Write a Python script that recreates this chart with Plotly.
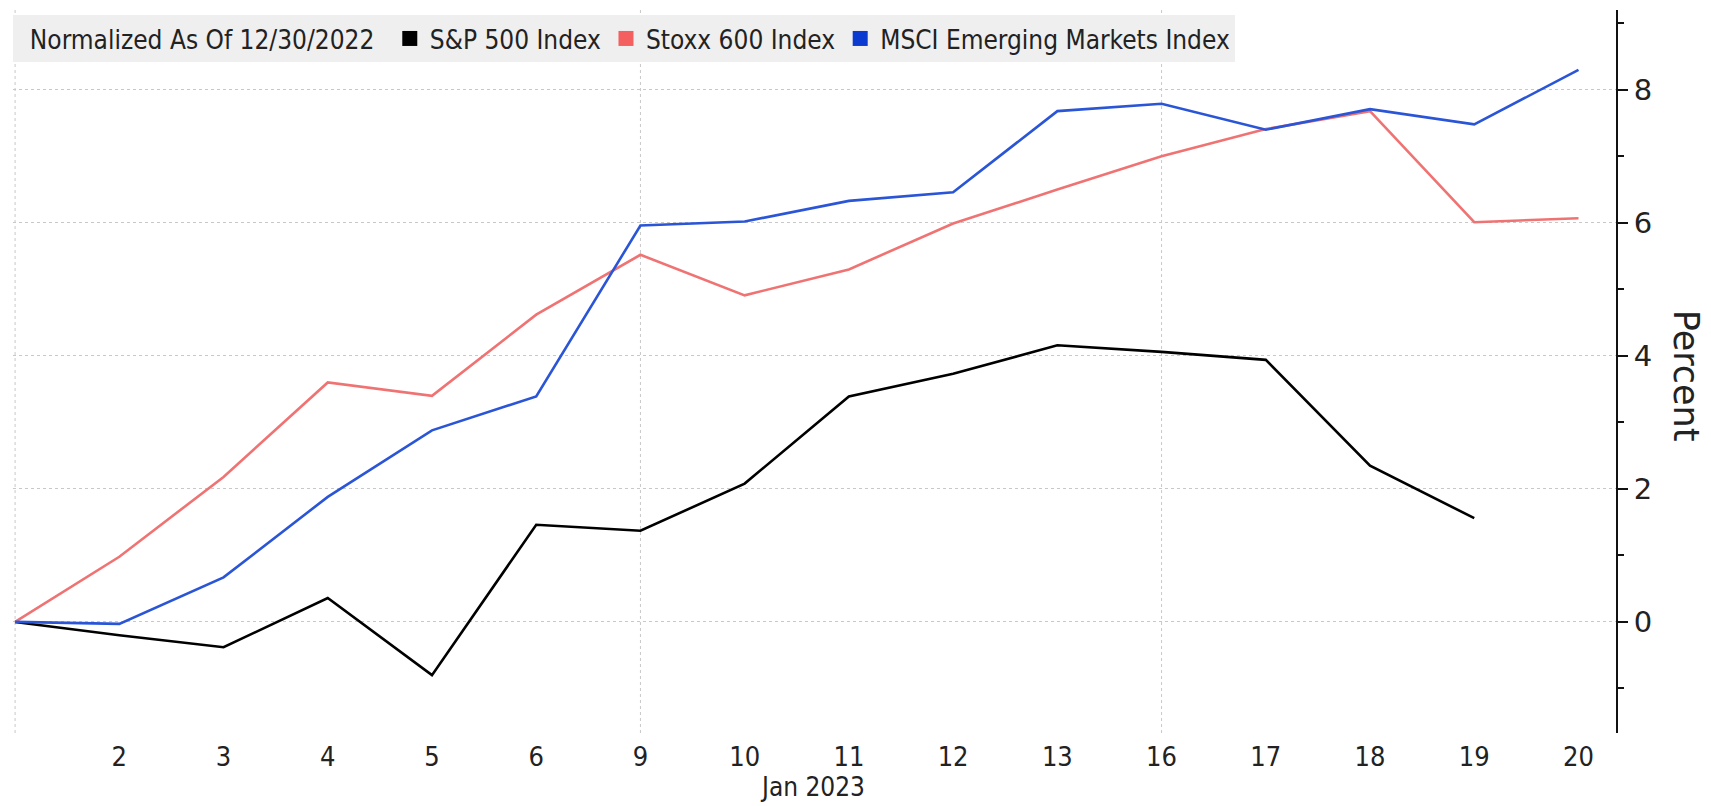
import plotly.graph_objects as go

# ---- data ----
dates = ["2022-12-30", "2023-01-02", "2023-01-03", "2023-01-04", "2023-01-05", "2023-01-06",
         "2023-01-09", "2023-01-10", "2023-01-11", "2023-01-12", "2023-01-13",
         "2023-01-16", "2023-01-17", "2023-01-18", "2023-01-19", "2023-01-20"]
day_labels = ["", "2", "3", "4", "5", "6", "9", "10", "11", "12", "13", "16", "17", "18", "19", "20"]

spx = [0.0, -0.2, -0.38, 0.36, -0.80, 1.46, 1.37, 2.08, 3.39, 3.73, 4.16, 4.06, 3.94, 2.35, 1.56, None]
stoxx = [0.0, 0.98, 2.18, 3.60, 3.40, 4.62, 5.52, 4.91, 5.30, 5.99, 6.50, 7.00, 7.41, 7.68, 6.01, 6.07]
msci_em = [0.0, -0.03, 0.67, 1.88, 2.88, 3.39, 5.96, 6.02, 6.33, 6.46, 7.68, 7.79, 7.40, 7.71, 7.48, 8.30]

series_names = ["S&P 500 Index", "Stoxx 600 Index", "MSCI Emerging Markets Index"]
line_colors = ["#000000", "#f07373", "#2a55d6"]
legend_colors = ["#000000", "#f45f5f", "#0a3ad0"]
week_starts = [0, 6, 11]  # indices of vertical dotted gridlines

y_ticks = [0, 2, 4, 6, 8]

condensed = "Liberation Sans Narrow, DejaVu Sans Condensed, Arial Narrow, sans-serif"

fig = go.Figure()
xs = list(range(len(dates)))
for name, vals, col in zip(series_names, [spx, stoxx, msci_em], line_colors):
    fig.add_trace(go.Scatter(x=xs, y=vals, mode="lines", name=name,
                             line=dict(color=col, width=2.6), showlegend=False,
                             connectgaps=False, hoverinfo="skip"))
for name, col in zip(series_names, legend_colors):
    fig.add_trace(go.Scatter(x=[None], y=[None], mode="markers", name=name,
                             marker=dict(symbol="square", size=15, color=col)))

for wi in week_starts:
    fig.add_shape(type="line", xref="x", yref="paper", x0=wi, x1=wi, y0=0, y1=1,
                  line=dict(color="#c8c8c8", width=1, dash="dot"), layer="below")

fig.update_layout(
    width=1703, height=798,
    margin=dict(l=5, r=95, t=2, b=73),
    paper_bgcolor="white", plot_bgcolor="white",
    showlegend=True,
    legend=dict(
        orientation="h", x=0, xanchor="left", y=0.993, yanchor="top",
        bgcolor="#efefef", borderwidth=0,
        font=dict(family=condensed, size=26, color="#222"),
        title=dict(text="  Normalized As Of 12/30/2022 ", side="left",
                   font=dict(family=condensed, size=26, color="#222")),
        itemwidth=30, tracegroupgap=0,
    ),
    xaxis=dict(
        range=[-0.02, 15.36], showgrid=False, zeroline=False, showline=False,
        tickmode="array", tickvals=xs[1:], ticktext=day_labels[1:],
        ticks="outside", ticklen=0, tickcolor="rgba(0,0,0,0)",
        tickfont=dict(family=condensed, size=27, color="#222"),
    ),
    yaxis=dict(
        side="right", range=[-1.67, 9.2], tickmode="array", tickvals=y_ticks,
        showgrid=True, gridcolor="#c8c8c8", griddash="dot", gridwidth=1,
        zeroline=False, showline=True, linecolor="#111", linewidth=2,
        ticks="outside", ticklen=10, tickwidth=2, tickcolor="#111",
        tickfont=dict(family="DejaVu Sans", size=29, color="#222"),
        minor=dict(tickvals=[-1, 1, 3, 5, 7, 9], ticks="outside", ticklen=6,
                   tickwidth=1.5, tickcolor="#111", showgrid=False),
    ),
    annotations=[
        dict(text="Jan 2023", xref="x", yref="paper", x=7.65, y=-0.075,
             xanchor="center", yanchor="middle", showarrow=False,
             font=dict(family=condensed, size=26, color="#222")),
        dict(text="Percent", xref="paper", yref="paper", x=1.0437, y=0.494,
             xanchor="center", yanchor="middle", showarrow=False, textangle=90,
             font=dict(family="DejaVu Sans", size=35, color="#222")),
    ],
)

fig.write_html("out.html")
